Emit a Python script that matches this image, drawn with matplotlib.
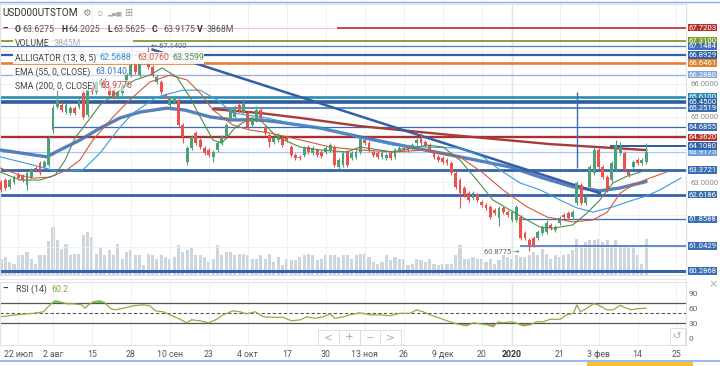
import matplotlib
matplotlib.use("Agg")
import matplotlib.pyplot as plt
import matplotlib.transforms as mtransforms
from matplotlib.patches import Rectangle
from matplotlib.lines import Line2D
import numpy as np

plt.rcParams['font.family'] = ['Roboto', 'DejaVu Sans']

# ---------------- data ----------------
opens = [63.00,63.06,62.85,63.00,63.21,63.18,62.91,63.15,63.43,63.58,
         63.46,63.52,64.59,65.29,65.36,65.14,65.11,65.26,65.29,65.72,
         65.05,65.88,65.75,65.97,66.12,65.88,65.81,65.60,65.72,65.97,
         66.27,66.58,66.27,66.67,66.88,66.52,66.06,66.06,65.66,65.36,
         65.45,65.51,64.74,63.61,64.04,64.50,64.29,64.04,63.98,63.77,
         63.98,64.19,64.38,64.90,64.99,65.36,65.14,65.11,64.74,64.90,
         65.20,64.68,64.44,64.22,64.29,64.35,64.35,64.07,63.83,63.77,
         63.83,64.07,63.89,63.98,63.92,63.92,63.98,64.07,63.46,63.52,
         63.92,63.73,63.77,63.92,64.29,64.19,63.92,63.89,63.77,63.73,
         63.89,63.77,63.98,64.04,64.07,64.04,64.19,64.35,64.22,64.13,
         63.89,63.77,63.73,63.67,63.58,63.28,63.06,62.82,62.66,62.51,
         62.60,62.39,62.30,62.24,62.14,61.90,62.21,62.08,61.84,61.84,
         61.93,61.44,61.23,61.29,61.29,61.44,61.47,61.69,61.53,61.75,
         61.99,62.05,61.93,62.36,62.91,62.36,62.85,63.28,63.98,63.46,
         63.15,63.06,63.37,63.89,63.89,63.31,63.46,63.67,63.58,63.6275]
closes = [62.76,62.82,63.06,63.15,63.12,63.06,63.28,63.37,63.37,63.28,
          63.61,64.35,65.26,65.51,65.20,65.36,65.26,65.11,65.51,64.99,
          65.81,65.75,66.06,66.12,65.88,65.66,65.60,65.72,65.97,66.27,
          66.58,66.36,66.67,66.88,66.52,66.27,66.21,65.75,65.60,65.57,
          65.57,64.74,64.38,64.04,64.38,64.19,64.07,63.89,63.83,63.92,
          64.19,64.38,64.74,65.20,65.29,65.20,65.39,64.68,64.96,65.20,
          64.96,64.50,64.22,64.35,64.44,64.13,64.29,63.83,63.73,63.73,
          64.04,63.92,64.04,63.83,63.80,64.04,64.13,63.52,63.67,63.89,
          63.52,63.89,63.92,64.35,64.19,63.98,63.83,63.77,63.89,63.83,
          63.73,63.98,64.04,63.98,63.98,64.13,64.29,64.19,64.13,63.98,
          63.77,63.67,63.61,63.58,63.28,62.85,62.66,62.60,62.45,62.66,
          62.45,62.30,62.21,61.93,62.05,62.21,62.08,61.99,62.08,62.24,
          61.29,61.29,61.07,61.07,61.47,61.63,61.75,61.59,61.63,61.90,
          61.93,61.90,62.08,62.97,62.36,62.54,63.46,63.98,63.46,63.15,
          62.76,63.58,64.13,64.07,63.37,63.22,63.61,63.58,63.67,63.9175]
highs = [63.06,63.12,63.12,63.21,63.30,63.24,63.34,63.43,63.49,63.64,
         63.67,64.41,65.35,65.81,65.45,65.42,65.33,65.32,65.57,65.78,
         65.87,65.94,66.12,66.18,66.18,65.94,65.87,65.78,66.03,66.33,
         66.64,66.64,66.73,66.98,67.14,66.58,66.27,66.12,65.72,65.63,
         65.63,65.57,64.80,64.10,64.44,64.56,64.35,64.10,64.04,63.98,
         64.25,64.44,64.80,65.26,65.35,65.45,65.55,65.17,65.02,65.32,
         65.26,64.74,64.50,64.41,64.50,64.41,64.41,64.13,63.89,63.83,
         64.10,64.13,64.10,64.04,63.98,64.10,64.19,64.13,63.73,63.95,
         63.98,63.95,63.98,64.41,64.35,64.25,63.98,63.95,63.95,63.89,
         63.95,64.04,64.10,64.10,64.13,64.19,64.35,64.50,64.29,64.19,
         63.95,63.83,63.80,63.73,63.64,63.34,63.12,62.88,62.72,62.72,
         62.66,62.45,62.36,62.30,62.20,62.27,62.27,62.14,62.14,62.30,
         61.99,61.50,61.29,61.35,61.53,61.69,61.84,61.75,61.69,61.96,
         62.05,62.11,62.14,63.03,62.97,62.60,63.52,64.07,64.04,63.52,
         63.21,63.64,64.28,64.22,63.95,63.37,63.67,63.73,63.73,64.2025]
lows = [62.70,62.76,62.79,62.94,63.06,63.00,62.76,63.09,63.31,63.22,
        63.40,63.46,64.50,65.23,65.14,65.08,65.05,65.05,65.23,64.93,
        64.99,65.69,65.69,65.91,65.82,65.60,65.54,65.54,65.66,65.91,
        66.21,66.30,66.21,66.61,66.46,66.21,66.00,65.69,65.54,65.30,
        65.39,64.68,64.20,63.52,63.98,64.13,64.01,63.83,63.77,63.60,
        63.92,64.13,64.32,64.84,64.93,65.14,65.08,64.62,64.68,64.84,
        64.90,64.44,64.07,64.16,64.23,64.07,64.23,63.77,63.67,63.67,
        63.77,63.86,63.83,63.77,63.74,63.86,63.92,63.46,63.40,63.46,
        63.46,63.67,63.71,63.86,64.13,63.92,63.77,63.71,63.71,63.67,
        63.67,63.71,63.92,63.92,63.92,63.98,64.13,64.13,64.07,63.92,
        63.71,63.61,63.55,63.52,63.22,62.79,62.20,62.54,62.39,62.45,
        62.39,62.24,62.15,61.87,61.99,61.65,62.02,61.93,61.78,61.78,
        61.23,61.23,60.8775,61.01,61.23,61.38,61.41,61.53,61.47,61.69,
        61.87,61.84,61.87,62.30,62.30,62.30,62.79,63.22,63.40,63.09,
        62.70,63.00,63.31,63.83,63.31,63.16,63.40,63.52,63.52,63.5625]
volumes_m = [1740,1920,1385,1200,2100,2100,2450,1740,1200,2100,
             2160,3590,5110,3700,2800,3330,2100,2270,2270,4230,
             4580,4050,2270,2980,2100,2630,2100,3330,1740,2450,
             2630,2100,2100,1030,2270,2100,1740,2100,1920,1740,
             1920,3160,2450,2630,2980,2100,2100,1920,1385,1740,
             3230,2100,2450,2450,2100,2270,2270,2100,1740,1740,
             2100,1740,2270,1385,1920,1030,1740,1570,1570,1920,
             2100,2270,2100,1570,1740,2100,2160,2100,1920,2100,
             2100,1740,2100,2270,2270,1920,1385,1200,1385,2100,
             1570,1920,1740,1740,1030,1200,1740,1570,1385,1740,
             1200,1030,1200,1200,1200,2100,3160,1740,1740,1920,
             1740,1740,1385,1740,1200,1570,2100,1920,1740,2100,
             1920,1920,2100,2450,2100,2800,2270,1740,2100,1920,
             2100,2270,2630,3870,3160,3510,3700,3700,3870,3510,
             3700,3160,3700,3160,3160,2980,3160,2100,1200,3868]

# indicator lines (bar index, value)
lips_x = [-0.2,4.4,9.0,12.5,14.8,17.1,19.4,22.9,27.5,30.9,34.4,37.2,40.6,43.6,46.0,49.0,51.0,54.0,57.5,60.3,
          63.7,69.1,73.7,79.9,82.9,90.5,98.4,102.1,106.0,109.9,113.6,117.6,121.5,124.5,127.5,132.1,135.3,138.3,141.3,144.6,149.0,152.0]
lips_v = [63.31,63.06,63.06,63.21,63.67,64.35,64.74,65.36,65.81,66.12,66.27,66.49,66.21,65.60,64.99,64.28,64.19,64.65,64.96,64.84,
          64.38,64.07,63.98,63.92,64.07,63.92,64.13,64.07,63.67,63.06,62.45,62.14,61.84,61.62,61.59,61.69,62.05,62.45,62.97,63.18,63.36,63.37]
teeth_x = [-0.2,4.4,7.4,11.3,15.2,18.2,21.2,25.9,28.6,30.5,34.4,39.0,43.0,46.0,49.0,53.6,57.5,62.1,69.1,76.0,
           82.9,90.5,98.4,106.0,111.3,115.9,121.5,126.1,132.1,136.7,140.0,143.0,146.0,149.0,153.8]
teeth_v = [63.43,63.21,63.12,63.15,63.37,63.67,64.28,64.99,65.36,65.60,66.06,66.27,66.12,65.72,65.20,64.74,64.59,64.50,64.29,64.07,
           63.98,63.92,63.98,63.77,63.28,62.76,62.24,61.93,61.78,61.84,62.08,62.66,62.91,63.08,63.31]
jaw_x = [-0.2,7.4,13.6,18.9,22.9,27.5,30.5,36.0,42.0,46.0,49.9,53.6,61.4,66.7,73.0,78.3,82.9,90.5,98.4,106.0,
         111.3,115.2,119.9,124.5,129.1,133.0,136.7,141.3,146.0,149.0,152.2,157.0]
jaw_v = [63.77,63.52,63.31,63.37,63.89,64.68,65.11,65.60,65.81,65.81,65.51,65.11,64.96,64.80,64.68,64.53,64.35,64.13,64.07,64.04,
         63.77,63.37,62.97,62.76,62.45,62.21,62.08,62.24,62.45,62.57,62.76,63.12]
ema_x = [-0.2,10.6,13.6,18.2,22.9,27.5,32.1,38.3,42.5,48.3,53.6,59.8,64.4,73.7,82.9,92.1,103.7,117.6,124.5,132.1,138.3,143.0,149.0]
ema_v = [63.98,63.77,63.98,64.28,64.65,64.96,65.14,65.26,65.20,64.99,64.90,64.90,64.83,64.65,64.38,64.13,63.83,63.46,63.15,62.85,62.73,62.82,63.014]
sma_x = [49.0,59.8,69.1,82.9,103.7,126.8,149.0]
sma_v = [65.23,65.11,64.96,64.71,64.44,64.16,63.9776]
trend_x = [35.0, 138.3]
trend_v = [67.05, 62.66]
vline_x = 133
vline_v = [63.43, 65.75]

rsi_x = [-0.2,3.6,7.5,9.8,11.3,12.5,13.6,15.2,16.7,18.6,19.4,20.2,21.3,22.9,24.0,25.2,26.3,28.2,30.6,32.9,
         34.4,35.6,37.5,39.0,40.9,42.9,44.0,46.0,47.9,49.8,51.3,53.6,55.2,56.7,58.7,60.6,62.9,65.2,67.1,69.1,
         70.6,72.5,74.4,76.0,77.1,79.1,80.6,82.9,85.2,87.5,89.8,92.1,94.5,96.0,97.5,99.1,101.4,103.7,105.2,107.5,
         109.1,110.6,112.2,113.7,114.8,116.0,117.9,119.1,120.6,122.2,123.7,125.2,126.8,129.1,130.6,132.2,133.0,133.8,135.3,136.8,
         137.9,139.9,141.4,143.0,144.5,145.6,146.8,149.0]
rsi_v = [43,47,50,53,67,75,73,69,69,67,60,67,73,75,71,60,57,60,65,67,
         65,55,53,47,40,31,37,35,31,38,47,55,53,49,53,43,42,42,35,37,
         43,40,43,49,40,43,47,51,47,47,45,50,50,57,53,47,40,33,29,25,
         31,29,27,23,33,31,33,30,25,27,33,33,38,38,47,50,67,53,60,69,
         67,57,57,66,60,57,59,60.2]

tick_pos = [4,12,21,30,39,48,57,66,75,84,93,102,111,118,129,138,147,156]
tick_labels = ["22 июл","2 авг","15","28","10 сен","23","4 окт","17","30","13 ноя",
               "26","9 дек","20","2020","21","3 фев","14","25"]

level_prices = [67.7203, 67.7203, 67.31, 67.1484, 66.8929, 66.6461, 66.2880, 65.61, 65.45, 65.2519,
                64.6855, 64.3620, 64.1080, 63.9175, 63.3721, 62.6186, 61.8588, 61.0429, 60.2868]
level_start = [None, 77.6, None, None, None, None, None, None, None, 49.0,
               12.0, None, 140.6, None, None, None, 119.9, 119.9, None]
label_texts = ["67.7203", "67.3100", "67.1484", "66.8929", "66.6461", "66.2880", "65.6100", "65.4500",
               "65.2519", "64.6855", "64.3620", "63.9175", "64.1080", "63.3721", "62.6186", "61.8588",
               "61.0429", "60.2868"]
label_prices = [67.7203, 67.31, 67.1484, 66.8929, 66.6461, 66.2880, 65.61, 65.45,
                65.2519, 64.6855, 64.3620, 63.9175, 64.1080, 63.3721, 62.6186, 61.8588,
                61.0429, 60.2868]
price_ticks = [63, 65, 66]

# ---------------- styles ----------------
level_colors = ['#f3c0c0', '#b8312f', '#7d9c2c', '#4f80c4', '#2f60a8', '#e5822f', '#98b1dc', '#2b8db3',
                '#2e5c9c', '#3668ad', '#3b6cb1', '#a83232', '#2e5a96', '#a9c7ee', '#3463a8', '#3463a8',
                '#3b6cb1', '#3b6cb1', '#3463a8']
level_lw = [0.8, 1.2, 1.3, 0.9, 1.6, 1.9, 1.0, 1.9, 2.6, 1.1, 0.9, 1.7, 1.4, 0.9, 2.0, 2.0, 0.9, 1.1, 2.2]
label_colors = ['#b8312f', '#7d9c2c', '#3e6fb4', '#2e62ab', '#e2812f', '#8ba6d6', '#2a8fb5', '#2d5f9e',
                '#3a6db2', '#3a6db2', '#b8312f', '#6d9fdc', '#2e62ab', '#3a6db2', '#3a6db2', '#3a6db2',
                '#3a6db2', '#3a6db2']
GREEN = '#4f9f79'
RED = '#e9534c'

W, H = 720, 366
def fx(px): return px / W
def fy(py): return 1 - py / H

fig = plt.figure(figsize=(7.2, 3.66), dpi=100)
fig.patch.set_facecolor('white')

XMIN, XMAX = -1 / 4.33, 685 / 4.33
ax = fig.add_axes([0, fy(275), 686 / W, (275 - 4) / H])
axv = ax.twinx()
axr = fig.add_axes([0, fy(345), 686 / W, (345 - 282) / H])
ax.set_zorder(axv.get_zorder() + 1)
ax.patch.set_visible(False)

for a in (ax, axv, axr):
    a.set_xlim(XMIN, XMAX)
    for s in a.spines.values():
        s.set_color('#dfe3e8')
        s.set_linewidth(0.8)

# grid
ax.set_ylim(60.157, 68.444)
ax.set_xticks(tick_pos)
ax.tick_params(axis='x', length=0, labelbottom=False)
ax.grid(axis='x', color='#eceff3', lw=0.6)
for p in range(61, 68):
    ax.axhline(p, color='#eceff3', lw=0.6, zorder=0)
ax.yaxis.tick_right()
ax.set_yticks(price_ticks)
ax.set_yticklabels([f"{p:.4f}" for p in price_ticks], fontsize=5.6, color='#888888')
ax.tick_params(axis='y', length=0, pad=3)

# volume
k = np.arange(len(opens))
axv.bar(k, volumes_m, width=0.72, color='#cdd5de', zorder=1)
axv.set_ylim(0, 271 * 106.5)
axv.set_yticks([])
axv.tick_params(axis='x', length=0, labelbottom=False)

# 2020 separator
ax.axvline(118, color='#b5b9bf', lw=0.9, zorder=1)
axr.axvline(118, color='#b5b9bf', lw=0.9, zorder=1)

# horizontal levels
for p, st, c, lw in zip(level_prices, level_start, level_colors, level_lw):
    x0 = XMIN if st is None else st
    ax.hlines(p, x0, XMAX, colors=c, lw=lw, zorder=2)

# candles
o = np.array(opens); c = np.array(closes)
up = c >= o
cols = np.where(up, GREEN, RED)
ax.vlines(k, lows, highs, colors=cols, lw=0.8, zorder=4)
body = np.maximum(np.abs(c - o), 0.025)
ax.bar(k, body, bottom=np.minimum(o, c), width=0.66, color=cols, zorder=5)

# indicators
ax.plot(sma_x, sma_v, color='#a83a3a', lw=1.7, zorder=3)
ax.plot(ema_x, ema_v, color='#4572b5', lw=2.4, alpha=0.9, zorder=3, solid_capstyle='round')
ax.plot(trend_x, trend_v, color='#345fa3', lw=1.8, zorder=3)
ax.plot(jaw_x, jaw_v, color='#3b9ad9', lw=0.8, zorder=6)
ax.plot(teeth_x, teeth_v, color='#cf5a3c', lw=0.8, zorder=6)
ax.plot(lips_x, lips_v, color='#4f8c4a', lw=0.8, zorder=6)
ax.vlines(vline_x, vline_v[0], vline_v[1], colors='#3b6cb1', lw=1.0, zorder=3)

# high / low markers
ax.text(34.6, 67.13, "\u2190 67.1400", fontsize=5.4, color='#666666', va='center', ha='left', zorder=7)
ax.text(119.8, 60.86, "60.8775 \u2192", fontsize=5.4, color='#666666', va='center', ha='right', zorder=7)

# right value boxes
trans = mtransforms.blended_transform_factory(ax.transAxes, ax.transData)
for p, t, col in zip(label_prices, label_texts, label_colors):
    ax.text(1 + 16.5 / 686, p, t, transform=trans, ha='center', va='center', fontsize=5.6,
            color='white', clip_on=False, zorder=10,
            bbox=dict(boxstyle='square,pad=0.1', fc=col, ec='none'))

# RSI panel
axr.set_ylim(-13.4, 112.6)
rx = np.array(rsi_x); rv = np.array(rsi_v, dtype=float)
axr.axhline(70, color='#555555', lw=0.9)
axr.axhline(30, color='#555555', lw=0.9)
axr.axhline(50, color='#555555', lw=0.8, ls=(0, (3, 2)))
axr.fill_between(rx, rv, 70, where=rv > 70, interpolate=True, color='#5fe05f', lw=0)
axr.fill_between(rx, rv, 30, where=rv < 30, interpolate=True, color='#f08585', lw=0)
axr.plot(rx, rv, color='#8fae45', lw=0.9)
axr.set_xticks(tick_pos)
axr.set_xticklabels(tick_labels, fontsize=6.3, color='#555555')
for lab in axr.get_xticklabels():
    if lab.get_text() == "2020":
        lab.set_fontweight('bold')
        lab.set_color('#333333')
axr.tick_params(axis='x', length=0, pad=3.5)
axr.grid(axis='x', color='#eceff3', lw=0.6)
axr.yaxis.tick_right()
axr.set_yticks([0, 30, 60, 90])
axr.set_yticklabels(["0", "30", "60", "90"], fontsize=6, color='#666666')
axr.tick_params(axis='y', length=0, pad=2)

# ---------------- header / decorations ----------------
fig.add_artist(Line2D([0, 1], [fy(1.5)] * 2, color='#7eb0ea', lw=1.0))
fig.add_artist(Line2D([0, 1], [fy(361)] * 2, color='#7eb0ea', lw=1.2))
fig.add_artist(Rectangle((fx(587), 0), (693 - 587) / W, 4 / H, color='#f5c232', lw=0))
fig.add_artist(Line2D([0, fx(686)], [fy(279)] * 2, color='#e3e6ea', lw=0.8))

for (x0, y0, x1, y1, a) in [(13, 36, 133, 46, 0.9), (13, 52, 204, 64, 0.9),
                            (13, 66, 124, 77, 0.6), (13, 80, 130, 91, 0.6)]:
    fig.add_artist(Rectangle((fx(x0), fy(y1)), (x1 - x0) / W, (y1 - y0) / H,
                             color='white', alpha=a, lw=0, zorder=5))

def ftxt(x, y, s, **kw):
    kw.setdefault('fontsize', 6.3)
    kw.setdefault('color', '#444444')
    fig.text(fx(x), fy(y), s, va='center', ha='left', zorder=6, **kw)

ftxt(2, 13, "USD000UTSTOM", fontsize=7.2, color='#333333')
ftxt(82, 13, "\u2699", fontsize=7, color='#888888', family='DejaVu Sans')
ftxt(97, 14, "D", fontsize=5.5, color='#aaaaaa')
ftxt(107, 13, "\u2582\u2584\u2586", fontsize=4.5, color='#aaaaaa', family='DejaVu Sans')
ftxt(124, 13, "\u229e", fontsize=7, color='#999999', family='DejaVu Sans')

ftxt(2, 29, "\u2013", fontweight='bold', color='#333333')
ftxt(15, 29, "O", fontweight='bold', color='#333333')
ftxt(22, 29, "63.6275", color='#555555')
ftxt(61, 29, "H", fontweight='bold', color='#333333')
ftxt(68, 29, "64.2025", color='#555555')
ftxt(107, 29, "L", fontweight='bold', color='#333333')
ftxt(113, 29, "63.5625", color='#555555')
ftxt(152, 29, "C", fontweight='bold', color='#333333')
ftxt(163, 29, "63.9175", color='#555555')
ftxt(197, 29, "V", fontweight='bold', color='#333333')
ftxt(207, 29, "3868M", color='#555555')

ftxt(15, 43, "VOLUME")
ftxt(54, 43, "3845M", color='#a9b2c0')
ftxt(15, 58, "ALLIGATOR (13, 8, 5)")
ftxt(99, 58, "62.5688", color='#3b8fd1')
ftxt(137, 58, "63.0760", color='#cf5a3c')
ftxt(172, 58, "63.3599", color='#5c8c4a')
ftxt(15, 72, "EMA (55, 0, CLOSE)")
ftxt(95, 72, "63.0140", color='#3b6cb5')
ftxt(15, 86, "SMA (200, 0, CLOSE)")
ftxt(100, 86, "63.9776", color='#b34a4a')

ftxt(2, 289, "\u2013", fontweight='bold', color='#333333')
ftxt(16, 289, "RSI (14)")
ftxt(51, 289, "60.2", color='#8aac3a')
ftxt(708, 284, "\u00d7", fontsize=8, color='#aaaaaa', family='DejaVu Sans')

# navigation buttons
for x0, sym in [(318, "<"), (339, "+"), (360, "\u2212"), (380, ">")]:
    fig.add_artist(Rectangle((fx(x0), fy(345)), 20.5 / W, 15 / H, fc='white', ec='#dddddd', lw=0.7, zorder=7))
    fig.text(fx(x0 + 10.25), fy(337.5), sym, ha='center', va='center', fontsize=7.5,
             color='#aaaaaa', zorder=8, family='DejaVu Sans')
fig.add_artist(Rectangle((fx(670), fy(345)), 15 / W, 17 / H, fc='white', ec='#dddddd', lw=0.7, zorder=7))
fig.text(fx(677.5), fy(336.5), "\u21ba", ha='center', va='center', fontsize=7.5,
         color='#aaaaaa', zorder=8, family='DejaVu Sans')

fig.savefig("out.png", dpi=100, facecolor='white')
